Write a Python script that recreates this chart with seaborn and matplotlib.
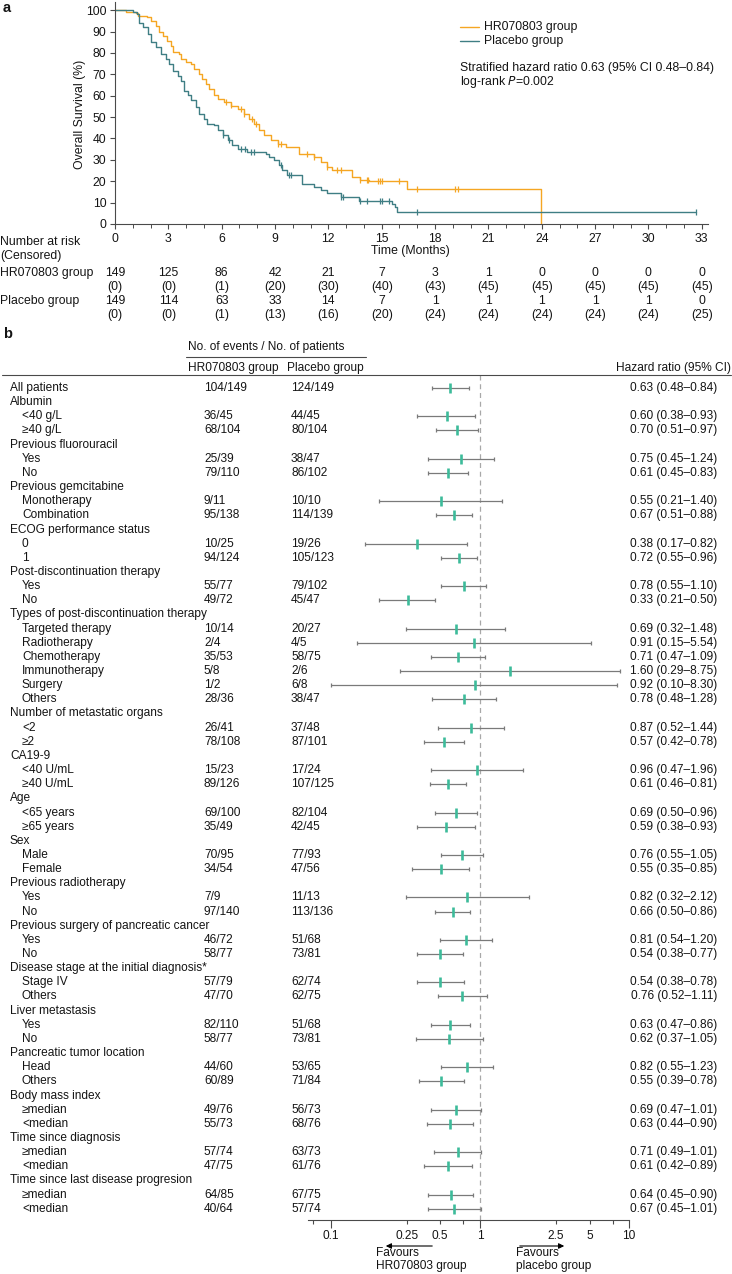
import numpy as np
import pandas as pd
import matplotlib
matplotlib.use("Agg")
import matplotlib.pyplot as plt
import seaborn as sns
from matplotlib import transforms
from matplotlib.lines import Line2D
from matplotlib.ticker import FixedLocator, FixedFormatter

# ---------------- data: Kaplan-Meier ----------------
hr_times = [0, 0.6, 1.2, 1.3, 1.8, 2.0, 2.3, 2.5, 2.7, 2.95, 3.15, 3.25, 3.6, 3.7, 4.0, 4.27,
            4.45, 4.74, 4.9, 5.1, 5.3, 5.58, 5.77, 6.14, 6.5, 6.9, 7.27, 7.55, 7.83, 8.1, 8.4,
            8.76, 9.14, 9.6, 10.36, 11.2, 11.57, 11.95, 12.2, 13.35, 13.78, 14.3, 16.4, 23.95]
hr_surv = [100, 99.3, 98.7, 97.4, 96.6, 95, 92.7, 89.6, 88, 85.7, 83.4, 80.3, 79.5, 77.2, 75.6, 74.8,
           72.5, 70.2, 67.9, 65.5, 63.2, 60.1, 58.5, 57, 55.4, 53.9, 51.6, 49.2, 46.9, 43.8, 41.5,
           39.1, 37.6, 36, 32.6, 31.4, 29, 26.7, 25.2, 22, 20.6, 20, 16.2, 0]
hr_censor = [6.24, 6.5, 7.08, 7.27, 7.73, 7.92, 9.14, 9.33, 10.8, 11.2, 11.95, 12.5, 12.7,
             13.8, 14.2, 14.25, 14.8, 14.9, 15.0, 16.0, 16.97, 19.1, 19.3]

pl_times = [0, 1.0, 1.25, 1.37, 1.55, 1.84, 2.0, 2.3, 2.58, 2.87, 3.05, 3.24, 3.52, 3.7, 3.86,
            4.08, 4.27, 4.55, 4.74, 5.0, 5.2, 5.58, 5.77, 6.05, 6.33, 6.6, 6.9, 7.45, 8.48, 8.67,
            8.95, 9.23, 9.42, 9.7, 10.54, 11.2, 11.57, 11.95, 12.7, 13.73, 15.56, 15.75, 15.84, 32.7]
pl_surv = [100, 99.2, 98, 94, 92, 88.8, 85, 82.6, 79.5, 77.2, 74.8, 71.7, 69.4, 67, 62.4,
           60.1, 57.8, 54.7, 51.6, 49.2, 46.9, 46.1, 43.8, 41.5, 39.1, 36.8, 35.2, 33.7, 32.9, 31.4,
           29.8, 27.5, 25.2, 22.8, 18.9, 17.4, 15.8, 14.3, 12.7, 10.6, 9.4, 8.1, 5.5, 5.5]
pl_censor = [6.1, 6.4, 7.1, 7.3, 7.65, 7.8, 9.33, 9.8, 9.9, 12.7, 12.8, 13.8, 14.2, 14.9,
             15.0, 15.4, 17.0, 32.7]

risk_times = [0, 3, 6, 9, 12, 15, 18, 21, 24, 27, 30, 33]
hr_risk = [149, 125, 86, 42, 21, 7, 3, 1, 0, 0, 0, 0]
hr_cens = [0, 0, 1, 20, 30, 40, 43, 45, 45, 45, 45, 45]
pl_risk = [149, 114, 63, 33, 14, 7, 1, 1, 1, 1, 1, 0]
pl_cens = [0, 0, 1, 13, 16, 20, 24, 24, 24, 24, 24, 25]

# ---------------- data: forest plot ----------------
labels = ["All patients", "Albumin", "<40 g/L", "\u226540 g/L",
          "Previous fluorouracil", "Yes", "No",
          "Previous gemcitabine", "Monotherapy", "Combination",
          "ECOG performance status", "0", "1",
          "Post-discontinuation therapy", "Yes", "No",
          "Types of post-discontinuation therapy", "Targeted therapy", "Radiotherapy",
          "Chemotherapy", "Immunotherapy", "Surgery", "Others",
          "Number of metastatic organs", "<2", "\u22652",
          "CA19-9", "<40 U/mL", "\u226540 U/mL",
          "Age", "<65 years", "\u226565 years",
          "Sex", "Male", "Female",
          "Previous radiotherapy", "Yes", "No",
          "Previous surgery of pancreatic cancer", "Yes", "No",
          "Disease stage at the initial diagnosis*", "Stage IV", "Others",
          "Liver metastasis", "Yes", "No",
          "Pancreatic tumor location", "Head", "Others",
          "Body mass index", "\u2265median", "<median",
          "Time since diagnosis", "\u2265median", "<median",
          "Time since last disease progresion", "\u2265median", "<median"]
indented = [0, 0, 1, 1, 0, 1, 1, 0, 1, 1, 0, 1, 1, 0, 1, 1, 0, 1, 1, 1, 1, 1, 1,
            0, 1, 1, 0, 1, 1, 0, 1, 1, 0, 1, 1, 0, 1, 1, 0, 1, 1, 0, 1, 1, 0, 1, 1,
            0, 1, 1, 0, 1, 1, 0, 1, 1, 0, 1, 1]
hr_events = ["104/149", "", "36/45", "68/104", "", "25/39", "79/110", "", "9/11", "95/138",
             "", "10/25", "94/124", "", "55/77", "49/72", "", "10/14", "2/4", "35/53", "5/8",
             "1/2", "28/36", "", "26/41", "78/108", "", "15/23", "89/126", "", "69/100",
             "35/49", "", "70/95", "34/54", "", "7/9", "97/140", "", "46/72", "58/77", "",
             "57/79", "47/70", "", "82/110", "58/77", "", "44/60", "60/89", "", "49/76",
             "55/73", "", "57/74", "47/75", "", "64/85", "40/64"]
pl_events = ["124/149", "", "44/45", "80/104", "", "38/47", "86/102", "", "10/10", "114/139",
             "", "19/26", "105/123", "", "79/102", "45/47", "", "20/27", "4/5", "58/75", "2/6",
             "6/8", "38/47", "", "37/48", "87/101", "", "17/24", "107/125", "", "82/104",
             "42/45", "", "77/93", "47/56", "", "11/13", "113/136", "", "51/68", "73/81", "",
             "62/74", "62/75", "", "51/68", "73/81", "", "53/65", "71/84", "", "56/73",
             "68/76", "", "63/73", "61/76", "", "67/75", "57/74"]
hr_val = [0.63, None, 0.60, 0.70, None, 0.75, 0.61, None, 0.55, 0.67, None, 0.38, 0.72,
          None, 0.78, 0.33, None, 0.69, 0.91, 0.71, 1.60, 0.92, 0.78, None, 0.87, 0.57,
          None, 0.96, 0.61, None, 0.69, 0.59, None, 0.76, 0.55, None, 0.82, 0.66, None,
          0.81, 0.54, None, 0.54, 0.76, None, 0.63, 0.62, None, 0.82, 0.55, None, 0.69,
          0.63, None, 0.71, 0.61, None, 0.64, 0.67]
hr_lo = [0.48, None, 0.38, 0.51, None, 0.45, 0.45, None, 0.21, 0.51, None, 0.17, 0.55,
         None, 0.55, 0.21, None, 0.32, 0.15, 0.47, 0.29, 0.10, 0.48, None, 0.52, 0.42,
         None, 0.47, 0.46, None, 0.50, 0.38, None, 0.55, 0.35, None, 0.32, 0.50, None,
         0.54, 0.38, None, 0.38, 0.52, None, 0.47, 0.37, None, 0.55, 0.39, None, 0.47,
         0.44, None, 0.49, 0.42, None, 0.45, 0.45]
hr_hi = [0.84, None, 0.93, 0.97, None, 1.24, 0.83, None, 1.40, 0.88, None, 0.82, 0.96,
         None, 1.10, 0.50, None, 1.48, 5.54, 1.09, 8.75, 8.30, 1.28, None, 1.44, 0.78,
         None, 1.96, 0.81, None, 0.96, 0.93, None, 1.05, 0.85, None, 2.12, 0.86, None,
         1.20, 0.77, None, 0.78, 1.11, None, 0.86, 1.05, None, 1.23, 0.78, None, 1.01,
         0.90, None, 1.01, 0.89, None, 0.90, 1.01]

forest_major_ticks = [0.1, 1, 10]
forest_major_labels = ["0.1", "1", "10"]
forest_minor_ticks = [0.0757, 0.3236, 0.539, 0.769, 3.24, 5.47, 7.81]
forest_minor_labels = ["", "0.25", "0.5", "", "2.5", "5", ""]

# ---------------- styling ----------------
ORANGE = "#F5A623"
TEAL = "#3F7E84"
GREEN = "#3DBB9A"
GREY = "#7A7A7A"
TXT = "#141414"
AX = "#4a4a4a"

sns.set_theme(style="white")
plt.rcParams["font.family"] = ["Liberation Sans", "DejaVu Sans"]
plt.rcParams["text.color"] = TXT
plt.rcParams["xtick.color"] = AX
plt.rcParams["ytick.color"] = AX
plt.rcParams["xtick.labelcolor"] = TXT
plt.rcParams["ytick.labelcolor"] = TXT

W, H = 732, 1274
fig = plt.figure(figsize=(W / 100, H / 100), dpi=100)


def fx(px):
    return px / W


def fy(py):
    return 1 - py / H


FS_A = 8.8   # panel a font size
FS_B = 8.6   # panel b font size

# ====================== Panel a: KM ======================
ax1 = fig.add_axes([fx(115), fy(224), fx(708) - fx(115), (224 - 2) / H])

km = pd.concat([
    pd.DataFrame({"t": hr_times, "S": hr_surv, "grp": "HR070803 group"}),
    pd.DataFrame({"t": pl_times, "S": pl_surv, "grp": "Placebo group"}),
])
sns.lineplot(data=km, x="t", y="S", hue="grp", palette={"HR070803 group": ORANGE,
             "Placebo group": TEAL}, drawstyle="steps-post", estimator=None,
             linewidth=1.0, legend=False, ax=ax1)


def step_eval(times, surv, t):
    idx = np.searchsorted(np.asarray(times), t, side="right") - 1
    return np.asarray(surv)[idx]


cens = pd.concat([
    pd.DataFrame({"t": hr_censor, "S": step_eval(hr_times, hr_surv, hr_censor),
                  "grp": "HR070803 group"}),
    pd.DataFrame({"t": pl_censor, "S": step_eval(pl_times, pl_surv, pl_censor),
                  "grp": "Placebo group"}),
])
sns.scatterplot(data=cens, x="t", y="S", hue="grp", palette={"HR070803 group": ORANGE,
                "Placebo group": TEAL}, marker="|", s=18, linewidth=0.9, legend=False, ax=ax1)

ax1.set_xlim(0, 33.35)
ax1.set_ylim(0, 103.8)
ax1.set_xticks(risk_times)
ax1.set_xticks(np.arange(0, 34, 1), minor=True)
ax1.set_yticks(np.arange(0, 101, 10))
ax1.set_xlabel("")
ax1.set_ylabel("")
ax1.xaxis.set_ticklabels([])
for s in ["top", "right"]:
    ax1.spines[s].set_visible(False)
for s in ["left", "bottom"]:
    ax1.spines[s].set_color(AX)
    ax1.spines[s].set_linewidth(0.8)
ax1.tick_params(axis="x", which="major", length=3.5, width=0.8, direction="out", bottom=True)
ax1.tick_params(axis="x", which="minor", length=2.8, width=0.7, direction="out", bottom=True)
ax1.tick_params(axis="y", which="major", length=3.6, width=0.8, direction="out", left=True,
                labelsize=FS_A, pad=2.6)

# x tick labels as risk-table header row (data x, figure y)
trA = transforms.blended_transform_factory(ax1.transData, fig.transFigure)
for t in risk_times:
    fig.text(t, fy(239), str(t), transform=trA, fontsize=FS_A, ha="center", va="center")

fig.text(fx(80), fy(114), "Overall Survival (%)", rotation=90, ha="center", va="center",
         fontsize=FS_A)
fig.text(fx(410), fy(251), "Time (Months)", ha="center", va="center", fontsize=FS_A)
fig.text(fx(3), fy(8), "a", fontsize=10.5, fontweight="bold", ha="left", va="center")

# legend
fig.add_artist(Line2D([fx(460), fx(479)], [fy(27), fy(27)], color=ORANGE, lw=1.0))
fig.add_artist(Line2D([fx(460), fx(479)], [fy(41), fy(41)], color=TEAL, lw=1.0))
fig.text(fx(484), fy(27), "HR070803 group", fontsize=FS_A, va="center")
fig.text(fx(484), fy(41), "Placebo group", fontsize=FS_A, va="center")
fig.text(fx(460), fy(68), "Stratified hazard ratio 0.63 (95% CI 0.48\u20130.84)",
         fontsize=FS_A, va="center")
fig.text(fx(460), fy(82), "log-rank $\\mathit{P}$=0.002", fontsize=FS_A, va="center")

# risk table
fig.text(fx(0), fy(242), "Number at risk", fontsize=FS_A, va="center")
fig.text(fx(0), fy(256), "(Censored)", fontsize=FS_A, va="center")
fig.text(fx(0), fy(273), "HR070803 group", fontsize=FS_A, va="center")
fig.text(fx(0), fy(301), "Placebo group", fontsize=FS_A, va="center")
for t, n, c in zip(risk_times, hr_risk, hr_cens):
    fig.text(t, fy(273), str(n), transform=trA, fontsize=FS_A, ha="center", va="center")
    fig.text(t, fy(287), f"({c})", transform=trA, fontsize=FS_A, ha="center", va="center")
for t, n, c in zip(risk_times, pl_risk, pl_cens):
    fig.text(t, fy(301), str(n), transform=trA, fontsize=FS_A, ha="center", va="center")
    fig.text(t, fy(315), f"({c})", transform=trA, fontsize=FS_A, ha="center", va="center")

# ====================== Panel b: forest ======================
ROW0, ROWH = 388.0, 14.15
TOP, BOT = 375.0, 1220.0
ax2 = fig.add_axes([fx(308), fy(BOT), fx(629) - fx(308), (BOT - TOP) / H])
ax2.set_xscale("log")
ax2.set_xlim(0.0703, 10)
ax2.set_ylim((BOT - ROW0) / ROWH, (TOP - ROW0) / ROWH)

rows = np.arange(len(labels))
fp = pd.DataFrame({"row": rows, "hr": hr_val, "lo": hr_lo, "hi": hr_hi}).dropna()
fp = fp.astype(float)
ax2.axvline(1, color="#a8a8a8", lw=0.9, ls=(0, (4, 3)), zorder=1)
ax2.errorbar(fp["hr"], fp["row"], xerr=[fp["hr"] - fp["lo"], fp["hi"] - fp["hr"]],
             fmt="none", ecolor=GREY, elinewidth=0.9, capsize=1.6, capthick=0.9, zorder=2)
sns.scatterplot(data=fp, x="hr", y="row", marker="|", s=44, linewidth=1.9, color=GREEN,
                zorder=3, ax=ax2, legend=False)
ax2.set_xlabel("")
ax2.set_ylabel("")
ax2.set_yticks([])
for s in ["top", "right", "left"]:
    ax2.spines[s].set_visible(False)
ax2.spines["bottom"].set_color(AX)
ax2.spines["bottom"].set_linewidth(0.8)
ax2.xaxis.set_major_locator(FixedLocator(forest_major_ticks))
ax2.xaxis.set_major_formatter(FixedFormatter(forest_major_labels))
ax2.xaxis.set_minor_locator(FixedLocator(forest_minor_ticks))
ax2.xaxis.set_minor_formatter(FixedFormatter(forest_minor_labels))
ax2.tick_params(axis="x", which="major", length=5.4, width=0.8, direction="out",
                bottom=True, labelsize=FS_B, pad=1.6)
ax2.tick_params(axis="x", which="minor", length=3.1, width=0.8, direction="out",
                bottom=True, labelsize=FS_B, pad=3.9)

trB = transforms.blended_transform_factory(fig.transFigure, ax2.transData)
for i, (lab, ind, e1, e2) in enumerate(zip(labels, indented, hr_events, pl_events)):
    fig.text(fx(22) if ind else fx(10), i, lab, transform=trB, fontsize=FS_B, va="center")
    if e1:
        fig.text(fx(204), i, e1, transform=trB, fontsize=FS_B, va="center")
        fig.text(fx(291), i, e2, transform=trB, fontsize=FS_B, va="center")
for i, (h, l, u) in enumerate(zip(hr_val, hr_lo, hr_hi)):
    if h is not None:
        fig.text(fx(717), i, f"{h:.2f} ({l:.2f}\u2013{u:.2f})", transform=trB,
                 fontsize=FS_B, va="center", ha="right")

# headers
fig.text(fx(3), fy(334), "b", fontsize=10.5, fontweight="bold", ha="left", va="center")
fig.text(fx(188), fy(347), "No. of events / No. of patients", fontsize=FS_B, va="center")
fig.add_artist(Line2D([fx(186), fx(366)], [fy(357), fy(357)], color=AX, lw=0.8))
fig.text(fx(188), fy(368), "HR070803 group", fontsize=FS_B, va="center")
fig.text(fx(287), fy(368), "Placebo group", fontsize=FS_B, va="center")
fig.text(fx(731), fy(368), "Hazard ratio (95% CI)", fontsize=FS_B, va="center", ha="right")
fig.add_artist(Line2D([fx(2), fx(731)], [fy(TOP), fy(TOP)], color=AX, lw=0.8))

# favours arrows
fig.add_artist(matplotlib.patches.FancyArrowPatch((fx(435), fy(1246)), (fx(383), fy(1246)),
               transform=fig.transFigure, arrowstyle="-|>", mutation_scale=8, lw=0.8,
               color="black"))
fig.add_artist(matplotlib.patches.FancyArrowPatch((fx(517), fy(1246)), (fx(567), fy(1246)),
               transform=fig.transFigure, arrowstyle="-|>", mutation_scale=8, lw=0.8,
               color="black"))
fig.text(fx(376), fy(1253), "Favours", fontsize=FS_B, va="center")
fig.text(fx(376), fy(1266), "HR070803 group", fontsize=FS_B, va="center")
fig.text(fx(516), fy(1253), "Favours", fontsize=FS_B, va="center")
fig.text(fx(516), fy(1266), "placebo group", fontsize=FS_B, va="center")

fig.savefig("out.png", dpi=100, facecolor="white")
